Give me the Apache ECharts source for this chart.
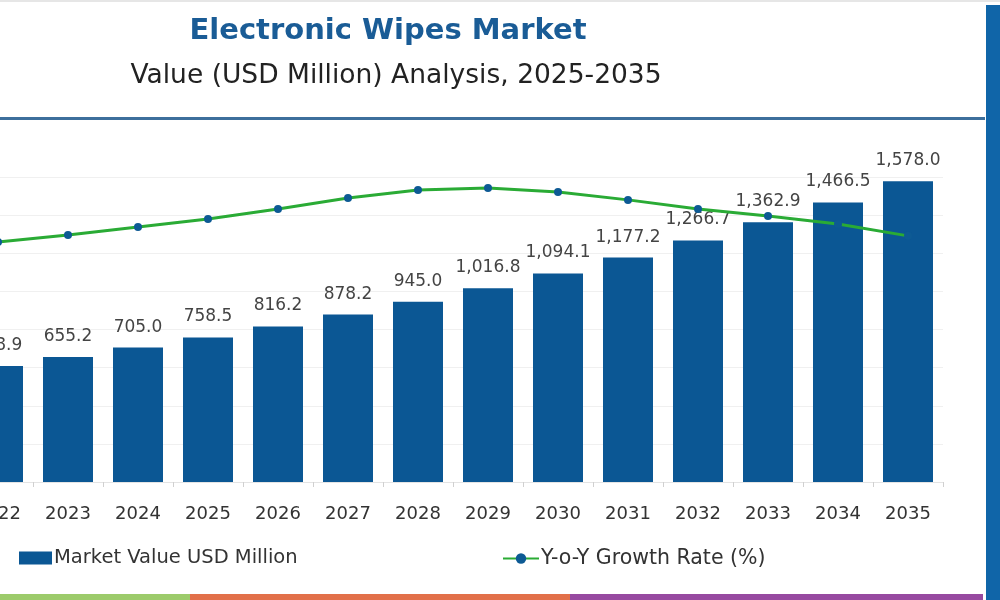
<!DOCTYPE html>
<html>
<head>
<meta charset="utf-8">
<script src="https://cdn.jsdelivr.net/npm/echarts@6/dist/echarts.min.js"></script>
<style>
html,body{margin:0;padding:0;background:#fff;overflow:hidden;}
#wrap{position:relative;width:1000px;height:600px;overflow:hidden;}
#c{position:absolute;left:-37px;top:0;width:1037px;height:600px;}
</style>
</head>
<body>
<div id="wrap"><div id="c"></div></div>
<script>
const years = ['2022','2023','2024','2025','2026','2027','2028','2029','2030','2031','2032','2033','2034','2035'];
const marketValue = [608.9,655.2,705.0,758.5,816.2,878.2,945.0,1016.8,1094.1,1177.2,1266.7,1362.9,1466.5,1578.0];
const growthRate = [7.87,8.10,8.36,8.62,8.95,9.31,9.57,9.64,9.51,9.25,8.95,8.72,8.46,8.07];
const titleText = 'Electronic Wipes Market';
const subtitleText = 'Value (USD Million) Analysis, 2025-2035';
const barName = 'Market Value USD Million';
const lineName = 'Y-o-Y Growth Rate (%)';

const FONT = '"DejaVu Sans", "Noto Sans", sans-serif';
const OX = 37; // chart canvas is shifted 37px left so the first bar is clipped like the reference
const chart = echarts.init(document.getElementById('c'));
const fmt = v => v.toLocaleString('en-US',{minimumFractionDigits:1,maximumFractionDigits:1});

chart.setOption({
  animation:false,
  backgroundColor:'#fff',
  textStyle:{fontFamily:FONT},
  title:[
    {text:titleText,left:383+OX,top:12,textAlign:'center',
     textStyle:{fontFamily:FONT,fontSize:29,fontWeight:'bold',color:'#1a5c96'}},
    {text:subtitleText,left:391+OX,top:58,textAlign:'center',
     textStyle:{fontFamily:FONT,fontSize:26.5,fontWeight:'normal',color:'#222'}}
  ],
  graphic:[
    {type:'rect',shape:{x:0,y:0,width:1037,height:2},style:{fill:'#e6e6e6'},silent:true},
    {type:'rect',shape:{x:0,y:117,width:985+OX,height:3},style:{fill:'#3d6f9c'},silent:true},
    {type:'rect',shape:{x:986+OX,y:5,width:14,height:595},style:{fill:'#1065a8'},silent:true},
    {type:'rect',shape:{x:0,y:594,width:190+OX,height:6},style:{fill:'#9ccb6b'},silent:true},
    {type:'rect',shape:{x:190+OX,y:594,width:380,height:6},style:{fill:'#e2704a'},silent:true},
    {type:'rect',shape:{x:570+OX,y:594,width:413,height:6},style:{fill:'#974aa0'},silent:true}
  ],
  legend:[
    {data:[{name:barName,icon:'rect'}],left:14+OX,top:543,itemWidth:33,itemHeight:13,itemGap:6,
     textStyle:{fontFamily:FONT,fontSize:19.5,color:'#333',padding:[0,0,0,-3]}},
    {data:[lineName],left:497+OX,top:543,itemWidth:36,itemHeight:13,
     textStyle:{fontFamily:FONT,fontSize:20.5,color:'#333',padding:[0,0,0,-3]}}
  ],
  grid:{left:0,right:57,top:177,bottom:118,containLabel:false},
  xAxis:{type:'category',data:years,
    axisLine:{show:true,lineStyle:{color:'#e4e4e4'}},
    axisTick:{show:true,length:5,lineStyle:{color:'#d0d0d0'}},
    axisLabel:{margin:23,fontSize:18,color:'#333',fontFamily:FONT}},
  yAxis:[
    {type:'value',min:0,max:1600,interval:200,
     axisLabel:{show:false},axisLine:{show:false},axisTick:{show:false},
     splitLine:{show:true,lineStyle:{color:'#f0f0f0',width:1}}},
    {type:'value',min:0,max:10,show:false,splitLine:{show:false}}
  ],
  series:[
    {name:barName,type:'bar',data:marketValue,barWidth:50,
     itemStyle:{color:'#0b5794'},
     label:{show:true,position:'top',distance:12,fontSize:17,color:'#444',fontFamily:FONT,
       formatter:p=>fmt(p.value)}},
    {name:lineName,type:'line',yAxisIndex:1,data:growthRate,
     symbol:'circle',symbolSize:8,smooth:false,
     lineStyle:{color:'#2aab35',width:3},
     itemStyle:{color:'#0d5a94'},z:5}
  ]
});
</script>
</body>
</html>
